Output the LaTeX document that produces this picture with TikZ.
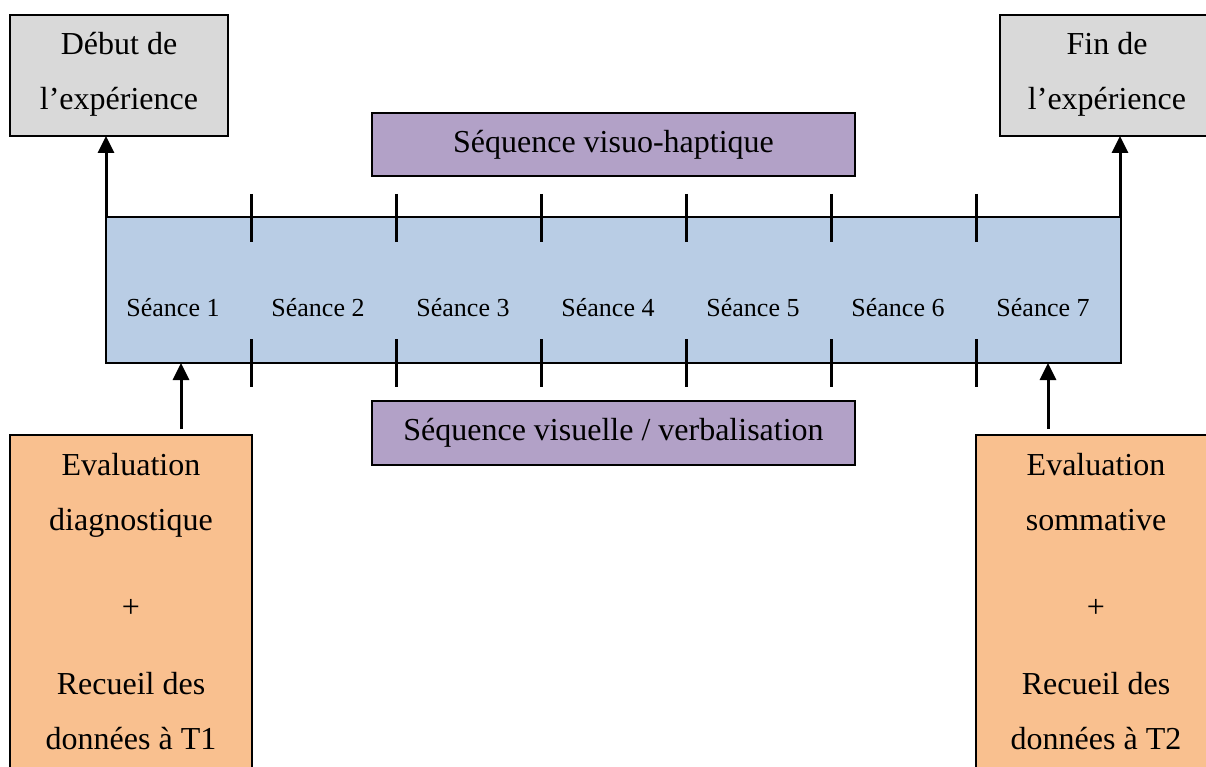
\documentclass[tikz,border=0pt]{standalone}
\usepackage{fontspec}
\setmainfont{Liberation Serif}
\usetikzlibrary{arrows.meta}
\definecolor{graybox}{HTML}{D9D9D9}
\definecolor{blueband}{HTML}{B9CDE5}
\definecolor{purplebox}{HTML}{B2A1C7}
\definecolor{orangebox}{HTML}{F9C08F}
\begin{document}
\begin{tikzpicture}[x=1pt,y=-1pt,
  box/.style={draw=black, line width=1.8pt, inner sep=0pt, outer sep=0pt, anchor=north west},
  big/.style={font=\fontsize{32}{38}\selectfont},
  bigtxt/.style={font=\fontsize{32}{38}\selectfont, inner sep=0pt, anchor=base},
  smalltxt/.style={font=\fontsize{26}{30}\selectfont, inner sep=0pt, anchor=base},
  arr/.style={line width=3pt, -{Triangle[width=16pt,length=17pt]}},
  tickline/.style={line width=3pt}]
\useasboundingbox (0,0) rectangle (1206,767);

% top boxes
\node[box, fill=graybox, minimum width=218pt, minimum height=121pt] (deb) at (10,15) {};
\node[box, fill=graybox, minimum width=215pt, minimum height=121pt] (fin) at (1000,15) {};
\node[bigtxt] (t1) at (119,55) {Début de};
\node[bigtxt] (t2) at (119,110) {l’expérience};
\node[bigtxt] (t3) at (1107,55) {Fin de};
\node[bigtxt] (t4) at (1107,110) {l’expérience};

% purple boxes
\node[box, big, fill=purplebox, minimum width=483pt, minimum height=63pt] (vh) at (372,113) {Séquence visuo-haptique};
\node[box, big, fill=purplebox, minimum width=483pt, minimum height=64pt] (vv) at (372,401) {Séquence visuelle / verbalisation};

% band
\node[box, fill=blueband, minimum width=1015pt, minimum height=146pt] (band) at (106,217) {};
\foreach \k in {1,...,6}{
  \draw[tickline] (106+145*\k,194) -- (106+145*\k,242);
  \draw[tickline] (106+145*\k,339) -- (106+145*\k,387);
}
\foreach \k in {1,...,7}{
  \node[smalltxt] (s\k) at (173+145*\k-145,316) {Séance \k};
}

% bottom boxes
\node[box, fill=orangebox, minimum width=242pt, minimum height=400pt] (eva) at (10,435) {};
\node[box, fill=orangebox, minimum width=240pt, minimum height=400pt] (evb) at (976,435) {};
\node[bigtxt] (a1) at (131,475) {Evaluation};
\node[bigtxt] (a2) at (131,530) {diagnostique};
\node[bigtxt] (a3) at (131,617) {+};
\node[bigtxt] (a4) at (131,694) {Recueil des};
\node[bigtxt] (a5) at (131,749) {données à T1};
\node[bigtxt] (b1) at (1096,475) {Evaluation};
\node[bigtxt] (b2) at (1096,530) {sommative};
\node[bigtxt] (b3) at (1096,617) {+};
\node[bigtxt] (b4) at (1096,694) {Recueil des};
\node[bigtxt] (b5) at (1096,749) {données à T2};

% arrows
\draw[arr] (band.north west) -- (band.north west |- deb.south);
\draw[arr] ([xshift=-1pt]band.north east) -- ([xshift=-1pt]band.north east |- fin.south);
\coordinate (p1) at (181,429);
\coordinate (p2) at (1048,429);
\draw[arr] (p1) -- (p1 |- band.south);
\draw[arr] (p2) -- (p2 |- band.south);
\end{tikzpicture}
\end{document}
